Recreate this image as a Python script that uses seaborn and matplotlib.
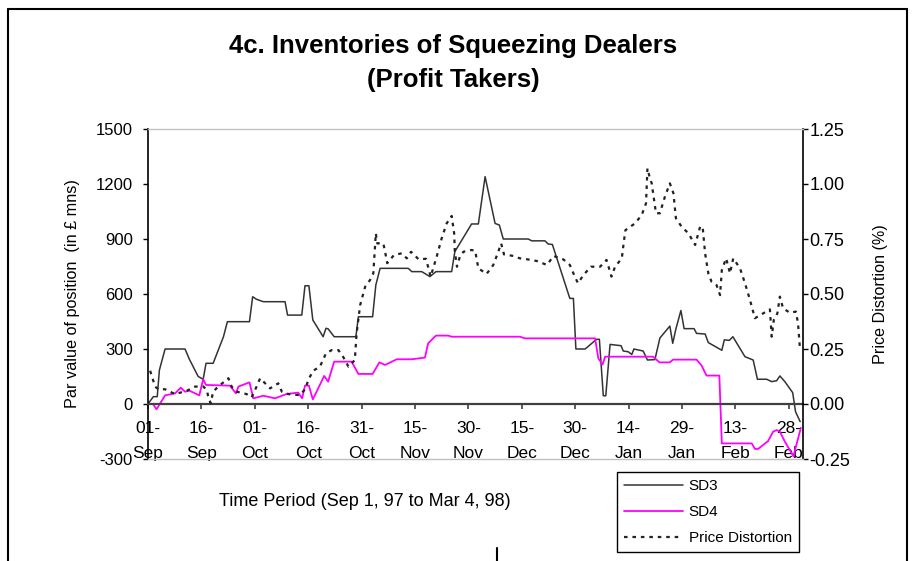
import pandas as pd
import matplotlib
matplotlib.use('Agg')
import matplotlib.pyplot as plt
from matplotlib.lines import Line2D
import seaborn as sns


START = pd.Timestamp('1997-09-01')
N_DAYS = 184  # Sep 1, 97 to Mar 4, 98

# SD3 inventory (par value, GBP mns), x = days since 1 Sep 1997
sd3_day = [0, 1.5, 2.6, 3.2, 4.8, 10.4, 11.6, 14.1, 15.5, 16.3, 18.3, 21.2, 22.3,
           28.5, 29.4, 30.5, 32.4, 38.5, 39.2, 43.2, 44.1, 45.2, 46.3, 49.2, 50.0,
           50.6, 52.3, 58.4, 59.1, 63.1, 64.0, 65.2, 73.1, 74.1, 76.9, 79.2, 80.9,
           85.3, 86.2, 90.9, 92.8, 94.7, 97.5, 98.7, 99.8, 106.8, 107.8, 111.5,
           112.4, 113.6, 118.5, 119.5, 120.2, 122.8, 126.0, 126.8, 127.9, 128.6,
           129.8, 132.9, 133.5, 134.9, 135.9, 136.5, 139.1, 140.3, 142.4, 143.8,
           146.6, 147.4, 148.3, 149.7, 150.6, 153.4, 154.1, 156.5, 157.4, 161.2,
           161.9, 163.3, 164.3, 167.7, 170.0, 171.2, 173.8, 175.2, 176.6, 177.5,
           178.9, 181.1, 181.9, 183.2]
sd3_val = [0, 40, 40, 185, 300, 300, 245, 150, 135, 222, 222, 367, 449,
           449, 585, 571, 558, 558, 485, 485, 645, 645, 458, 367, 413,
           410, 367, 367, 476, 476, 649, 740, 740, 722, 722, 695, 722,
           722, 831, 982, 982, 1240, 985, 976, 900, 900, 890, 890,
           873, 870, 576, 576, 300, 300, 353, 353, 45, 45,
           325, 318, 289, 285, 270, 300, 289, 240, 242, 360,
           425, 331, 410, 510, 411, 411, 385, 382, 335, 293,
           350, 347, 367, 258, 240, 135, 135, 122, 127, 153,
           122, 62, -42, -96]

# SD4 inventory (par value, GBP mns)
sd4_day = [0, 1.4, 2.4, 4.8, 7.6, 9.2, 10.4, 11.6, 14.4, 15.5, 16.3, 23.0, 24.7,
           25.4, 28.5, 29.6, 32.4, 35.7, 39.0, 42.2, 43.3, 44.1, 45.2, 46.3, 49.5,
           50.6, 52.3, 57.2, 59.1, 63.1, 65.0, 66.6, 69.9, 74.1, 77.8, 78.7, 80.9,
           84.4, 85.3, 104.5, 105.9, 125.6, 126.5, 127.7, 128.4, 141.9, 143.7,
           146.6, 147.5, 154.1, 155.5, 156.9, 160.5, 161.2, 169.6, 170.5, 171.4,
           174.2, 175.6, 176.6, 177.5, 178.9, 181.3, 183.4]
sd4_val = [0, 0, -29, 47, 58, 89, 67, 73, 47, 135, 104, 100, 58,
           95, 118, 31, 45, 31, 55, 62, 31, 100, 100, 25, 153,
           122, 231, 231, 164, 164, 227, 213, 244, 244, 253, 331, 373,
           373, 367, 367, 358, 358, 249, 215, 258, 258, 227,
           227, 242, 242, 210, 155, 155, -215, -215, -245, -245,
           -202, -151, -142, -151, -205, -285, -130]

# Price distortion (%)
pd_day = [0.6, 2.0, 2.9, 4.8, 7.6, 10.9, 13.2, 15.5, 16.5, 16.9, 17.6, 18.3, 19.7,
          22.6, 23.5, 24.9, 27.7, 29.1, 30.5, 31.5, 32.9, 34.3, 36.6, 37.6, 39.4,
          42.7, 44.3, 45.0, 46.4, 48.3, 50.0, 51.6, 53.5, 54.9, 56.3, 58.1, 58.6,
          59.6, 61.0, 62.4, 63.3, 64.0, 64.4, 66.1, 66.6, 67.2, 69.1, 71.3, 72.7,
          73.9, 76.0, 78.1, 79.4, 81.1, 82.5, 83.9, 85.3, 86.0, 86.2, 86.8, 87.6,
          88.6, 90.9, 91.9, 92.8, 95.1, 97.0, 98.4, 99.2, 100.0, 102.6, 104.5,
          106.4, 109.2, 112.1, 113.9, 116.7, 118.5, 119.9, 120.8, 122.3, 124.4,
          127.0, 128.8, 130.2, 131.2, 133.1, 133.5, 134.1, 136.8, 138.7, 139.9,
          140.3, 141.0, 141.5, 141.9, 142.4, 142.7, 143.8, 145.2, 146.6, 147.6,
          148.3, 149.9, 151.8, 153.7, 155.1, 155.8, 156.5, 157.4, 158.3, 159.7,
          160.7, 161.2, 162.4, 163.5, 164.4, 166.3, 167.7, 169.1, 170.5, 172.8,
          174.7, 175.2, 175.8, 176.8, 177.5, 178.4, 180.3, 182.0, 182.6, 183.1]
pd_val = [0.151, 0.079, 0.067, 0.067, 0.045, 0.060, 0.079, 0.080, 0.064, 0.036, 0.003, 0.056, 0.079,
          0.117, 0.079, 0.056, 0.045, 0.030, 0.079, 0.117, 0.094, 0.071, 0.094, 0.056, 0.045,
          0.040, 0.071, 0.109, 0.151, 0.170, 0.230, 0.245, 0.245, 0.212, 0.170, 0.200, 0.321,
          0.450, 0.533, 0.564, 0.594, 0.776, 0.730, 0.730, 0.692, 0.640, 0.677, 0.685, 0.662,
          0.692, 0.658, 0.660, 0.579, 0.670, 0.753, 0.821, 0.855, 0.776, 0.692, 0.624, 0.670,
          0.692, 0.700, 0.697, 0.617, 0.591, 0.632, 0.692, 0.730, 0.680, 0.673, 0.662,
          0.658, 0.650, 0.632, 0.673, 0.657, 0.632, 0.579, 0.549, 0.586, 0.624,
          0.624, 0.655, 0.579, 0.624, 0.662, 0.715, 0.790, 0.821, 0.859, 0.912,
          1.071, 1.026, 1.003, 0.958, 0.905, 0.867, 0.867, 0.942, 1.003, 0.958,
          0.844, 0.806, 0.776, 0.723, 0.806, 0.806, 0.685, 0.594, 0.556, 0.541,
          0.495, 0.609, 0.662, 0.594, 0.662, 0.617, 0.549, 0.473, 0.390, 0.412,
          0.430, 0.306, 0.382, 0.412, 0.488, 0.435, 0.415, 0.420, 0.367, 0.260]

left_ticks = [-300, 0, 300, 600, 900, 1200, 1500]
right_ticks = [-0.25, 0.00, 0.25, 0.50, 0.75, 1.00, 1.25]
tick_days = ['01-', '16-', '01-', '16-', '31-', '15-', '30-', '15-', '30-', '14-',
             '29-', '13-', '28-']
tick_months = ['Sep', 'Sep', 'Oct', 'Oct', 'Oct', 'Nov', 'Nov', 'Dec', 'Dec', 'Jan',
               'Jan', 'Feb', 'Feb']


def to_frame(days, vals):
    return pd.DataFrame({'date': START + pd.to_timedelta(days, unit='D'), 'value': vals})


sns.set_style('ticks')
plt.rcParams['font.family'] = ['Liberation Sans', 'DejaVu Sans']
plt.rcParams['text.color'] = 'black'
plt.rcParams['xtick.labelcolor'] = 'black'
plt.rcParams['ytick.labelcolor'] = 'black'

W, H = 914, 561
fig = plt.figure(figsize=(W / 100, H / 100), dpi=100)
ax = fig.add_axes([148 / W, 1 - 459 / H, 655 / W, 330 / H])
ax2 = ax.twinx()

sns.lineplot(data=to_frame(sd3_day, sd3_val), x='date', y='value', ax=ax,
             color='#333333', linewidth=1.1, legend=False)
sns.lineplot(data=to_frame(sd4_day, sd4_val), x='date', y='value', ax=ax,
             color='#ff00ff', linewidth=1.3, legend=False)
sns.lineplot(data=to_frame(pd_day, pd_val), x='date', y='value', ax=ax2,
             color='#222222', linewidth=1.6, linestyle=(0, (1.6, 2.2)), legend=False)

ax.set_xlim(START, START + pd.Timedelta(days=N_DAYS))
ax.set_ylim(-300, 1500)
ax2.set_ylim(-0.25, 1.25)

# two-row date labels: day on the major ticks, month on unmarked minor ticks
tick_dates = pd.date_range(START, periods=len(tick_days), freq='15D')
ax.xaxis.remove_overlapping_locs = False
ax.set_xticks(tick_dates)
ax.set_xticklabels(tick_days)
ax.set_xticks(tick_dates, minor=True)
ax.set_xticklabels(tick_months, minor=True)
ax.set_yticks(left_ticks)
ax.set_yticklabels([str(v) for v in left_ticks])
ax2.set_yticks(right_ticks)
ax2.set_yticklabels(['%.2f' % v for v in right_ticks])
ax.set_xlabel('')
ax.set_ylabel('')
ax2.set_ylabel('')

# axes styling
ax.spines['bottom'].set_position(('data', 0))
ax.spines['bottom'].set_color('#404040')
ax.spines['bottom'].set_linewidth(1.6)
ax.spines['top'].set_visible(False)
ax.spines['right'].set_visible(False)
ax.spines['left'].set_color('black')
ax.spines['left'].set_linewidth(1.2)
ax2.spines['left'].set_visible(False)
ax2.spines['right'].set_color('black')
ax2.spines['right'].set_linewidth(1.2)
for s in ('top', 'bottom'):
    ax2.spines[s].set_color('#c0c0c0')
    ax2.spines[s].set_linewidth(1.0)

ax.tick_params(axis='x', which='major', direction='out', length=3.8, width=1.2,
               color='#404040', labelsize=12.5, pad=8.5)
ax.tick_params(axis='x', which='minor', length=0, labelsize=12.5, pad=30.5)
ax.tick_params(axis='y', direction='out', length=3.8, width=1, color='black',
               labelsize=12, pad=7)
ax2.tick_params(axis='y', direction='out', length=3.8, width=1, color='black',
                labelsize=13, pad=1)

# texts
fig.text(453 / W, 1 - 63 / H, '4c. Inventories of Squeezing Dealers\n(Profit Takers)',
         ha='center', va='center', fontsize=18.5, fontweight='bold', linespacing=1.55)
fig.text(72 / W, 1 - 294 / H, 'Par value of position  (in £ mns)', rotation=90,
         ha='center', va='center', fontsize=11.7)
fig.text(880 / W, 1 - 294 / H, 'Price Distortion (%)', rotation=90,
         ha='center', va='center', fontsize=11.6)
fig.text(365 / W, 1 - 501 / H, 'Time Period (Sep 1, 97 to Mar 4, 98)',
         ha='center', va='center', fontsize=13)

handles = [ax.lines[0], ax.lines[1], ax2.lines[0]]
leg = fig.legend(handles, ['SD3', 'SD4', 'Price Distortion'], loc='upper left',
                 bbox_to_anchor=(617 / W, 1 - 472 / H), fontsize=11,
                 frameon=True, fancybox=False, framealpha=1, edgecolor='black',
                 handlelength=3.85, handletextpad=0.4, labelspacing=0.8,
                 borderpad=0.45, borderaxespad=0)
leg.get_frame().set_linewidth(1.0)

# outer frame of the chart object
for xs, ys in [([8, 8], [0, H - 9]), ([8, 907], [H - 9, H - 9]),
               ([907, 907], [H - 9, 0]), ([497, 497], [0, 13])]:
    fig.add_artist(Line2D([x / W for x in xs], [y / H for y in ys],
                          transform=fig.transFigure, color='black', linewidth=1.5))

fig.savefig('out.png', dpi=100)
